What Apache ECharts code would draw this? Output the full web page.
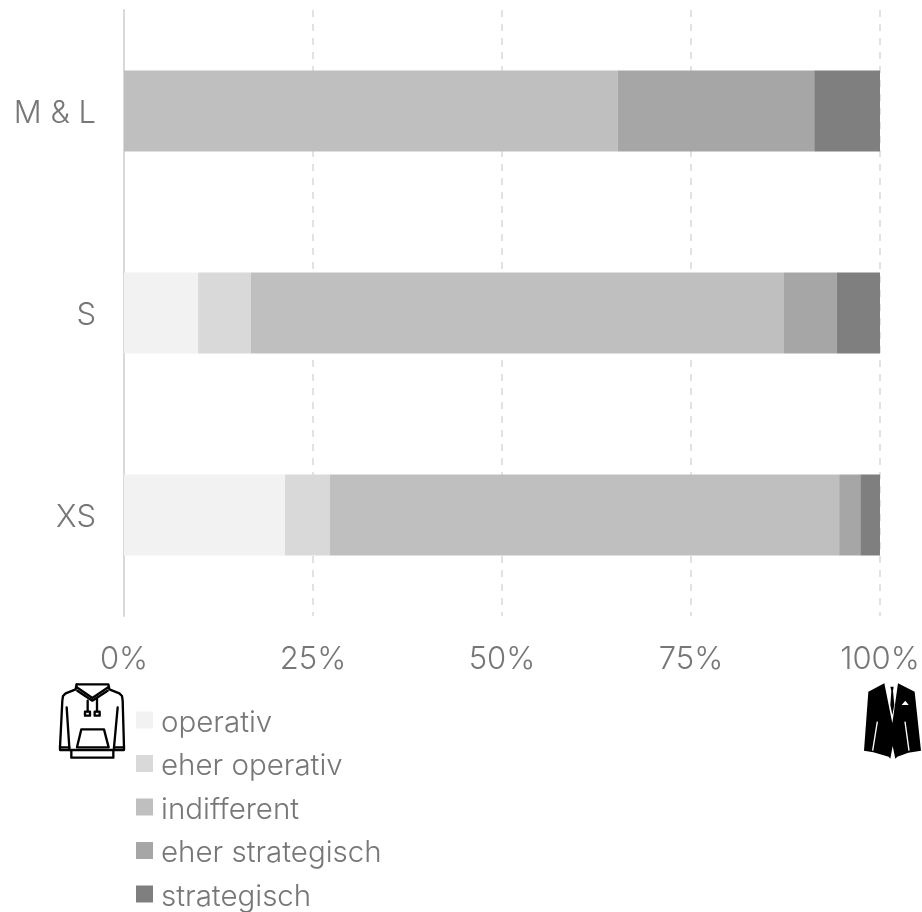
<!DOCTYPE html>
<html><head><meta charset="utf-8">
<style>html,body{margin:0;padding:0;background:#fff}#c{width:922px;height:912px}</style>
<script src="https://cdn.jsdelivr.net/npm/echarts@6/dist/echarts.min.js"></script>
</head><body><div id="c"></div>
<script>
const categories = ['XS', 'S', 'M & L'];
const operativ = [21.3, 9.8, 0];
const eherOperativ = [5.9, 7.0, 0];
const indifferent = [67.4, 70.5, 65.3];
const eherStrategisch = [2.8, 7.0, 26.0];
const strategisch = [2.6, 5.7, 8.7];
const seriesNames = ['operativ', 'eher operativ', 'indifferent', 'eher strategisch', 'strategisch'];
const seriesValues = [operativ, eherOperativ, indifferent, eherStrategisch, strategisch];
const colors = ['#f2f2f2', '#d9d9d9', '#bfbfbf', '#a6a6a6', '#7f7f7f'];
const FONT = 'Inter';
const chart = echarts.init(document.getElementById('c'), null, {renderer: 'canvas'});
const hoodieStroke = {stroke: '#000', fill: null, lineWidth: 7, lineJoin: 'round', lineCap: 'round'};
const hoodieLines = [
  [[110,43],[205,43],[208,58],[238,70],[246,78],[248,92],[252,232],[222,232],[233,112]],
  [[110,43],[107,58],[77,70],[69,78],[67,92],[60,232],[88,232],[80,112]],
  [[60,232],[60,240],[88,240],[88,232]],
  [[222,232],[222,240],[252,240],[252,232]],
  [[88,240],[222,240]],
  [[94,244],[94,263],[220,263],[220,244]],
  [[108,50],[157,84],[207,50]],
  [[112,62],[157,92],[203,62]],
  [[124,178],[192,178],[206,232],[111,232],[124,178]],
  [[143,92],[143,124]],
  [[171,86],[171,124]],
  [[135,125],[150,125],[150,137],[135,137],[135,125]],
  [[164,125],[179,125],[179,137],[164,137],[164,125]]
];
const jacketBody = [[133,130],[85,155],[72,332],[100,337],[146,350],[151,356],[158,318],[166,356],[172,350],[205,338],[243,332],[224,155],[174,130],[157,250]];
const jacketTie = [[151,140],[161,140],[159,152],[163,195],[157,225],[151,195],[154,152]];
const jacketPocket = [[185,195],[196,182],[206,195]];
const jacketSlits = [[[98,332],[112,245]], [[207,332],[195,245]]];
chart.setOption({
  animation: false,
  backgroundColor: '#fff',
  textStyle: {fontFamily: FONT, fontWeight: 300},
  grid: {left: 124, right: 42, top: 10, bottom: 296, outerBoundsMode: 'none'},
  legend: {
    orient: 'vertical', left: 136, top: 702, height: 260, padding: 0, selectedMode: false, icon: 'rect',
    itemWidth: 17, itemHeight: 17, itemGap: 7.5, itemStyle: {borderWidth: 0},
    data: seriesNames,
    formatter: '{a|{name}}',
    textStyle: {
      color: '#777',
      rich: {a: {fontFamily: FONT, fontWeight: 300, fontSize: 29.5, color: '#777', lineHeight: 30, padding: [6, 0, 0, 3]}}
    }
  },
  xAxis: {
    type: 'value', min: 0, max: 100, interval: 25,
    axisLine: {show: false}, axisTick: {show: false},
    axisLabel: {formatter: '{value}%', fontFamily: FONT, fontWeight: 300, fontSize: 31, color: '#777', margin: 28, hideOverlap: false},
    splitLine: {show: true, lineStyle: {color: '#d9d9d9', type: [7, 7], width: 1.5}}
  },
  yAxis: {
    type: 'category', data: categories,
    axisLine: {show: true, lineStyle: {color: '#d9d9d9', width: 2}}, axisTick: {show: false},
    axisLabel: {formatter: '{a|{value}}', margin: 28,
      rich: {a: {fontFamily: FONT, fontWeight: 300, fontSize: 31, color: '#777', lineHeight: 34, padding: [6, 0, 0, 0]}}}
  },
  series: seriesNames.map((n, i) => ({
    name: n, type: 'bar', stack: 'total', barWidth: 81,
    data: seriesValues[i], itemStyle: {color: colors[i]}
  })),
  graphic: [
    {type: 'group', x: 40, y: 670, scaleX: 1/3, scaleY: 1/3, silent: true,
     children: hoodieLines.map(p => ({type: 'polyline', shape: {points: p}, style: hoodieStroke}))},
    {type: 'group', x: 840, y: 640, scaleX: 1/3, scaleY: 1/3, silent: true, children: [
      {type: 'polygon', shape: {points: jacketBody}, style: {fill: '#000'}},
      {type: 'polygon', shape: {points: jacketTie}, style: {fill: '#000'}},
      {type: 'polygon', shape: {points: jacketPocket}, style: {fill: '#fff'}},
      ...jacketSlits.map(p => ({type: 'polyline', shape: {points: p}, style: {stroke: '#fff', lineWidth: 4, fill: null}}))
    ]}
  ]
});
</script></body></html>
